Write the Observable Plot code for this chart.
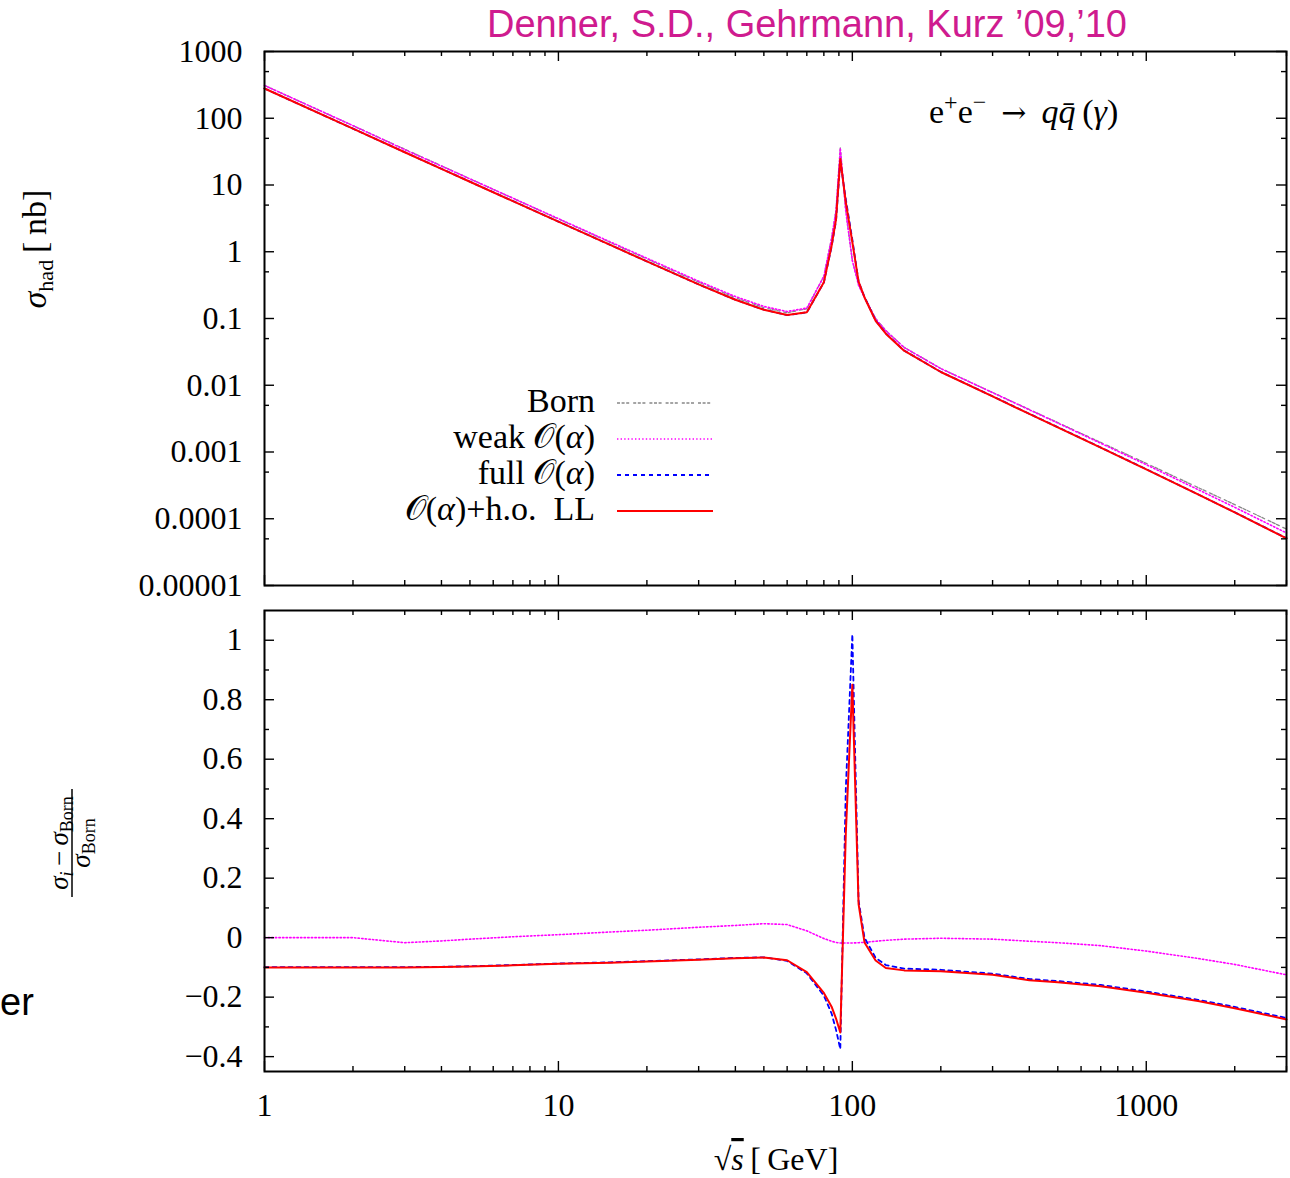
<!DOCTYPE html>
<html>
<head>
<meta charset="utf-8">
<script src="https://cdn.jsdelivr.net/npm/d3@7"></script>
<script src="https://cdn.jsdelivr.net/npm/@observablehq/plot@0.6"></script>
<style>
  html, body { margin: 0; padding: 0; background: #fff; overflow: hidden; }
  #chart { position: relative; width: 1290px; height: 1178px; }
  #chart svg { display: block; }
</style>
</head>
<body>
<div id="chart"></div>
<script>
// Centre-of-mass energies sqrt(s) in GeV
const energies = [1, 2, 3, 4, 5, 7, 10, 15, 20, 30, 40, 50, 60, 70, 80, 85, 88, 91, 95, 100,
  105, 110, 120, 130, 150, 200, 300, 400, 500, 700, 1000, 1500, 2000, 3000];

// Hadronic cross sections in nb
const sigmaBorn = [310, 77.5, 34.4, 19.4, 12.4, 6.33, 3.10, 1.38, 0.78, 0.35, 0.205, 0.145, 0.122, 0.140,
  0.43, 1.6, 4.2, 36, 4.1, 0.75, 0.32, 0.21, 0.100, 0.066, 0.037, 0.0178, 0.00779, 0.00434, 0.00276,
  0.00139, 0.000676, 0.000294, 0.000163, 0.0000700];
const sigmaWeak = [310, 77.5, 33.8, 19.19, 12.34, 6.35, 3.131, 1.406, 0.7995, 0.3623, 0.2134, 0.1518,
  0.1274, 0.1432, 0.4287, 1.581, 4.133, 35.35, 4.026, 0.7365, 0.3146, 0.2066, 0.0988, 0.0654, 0.0368,
  0.01776, 0.00775, 0.004288, 0.002713, 0.001352, 0.0006456, 0.0002734, 0.0001483, 0.00006125];
const sigmaFull = [279.3, 69.8, 31.0, 17.5, 11.21, 5.75, 2.830, 1.266, 0.7184, 0.3245, 0.1911, 0.1354,
  0.1125, 0.1232, 0.3462, 1.192, 2.898, 22.5, 6.15, 1.515, 0.36, 0.21, 0.0932, 0.0599, 0.03315, 0.01588,
  0.006847, 0.003737, 0.002357, 0.001169, 0.0005536, 0.0002326, 0.000125, 0.0000511];
const sigmaLL = [279, 69.75, 30.96, 17.48, 11.20, 5.74, 2.827, 1.264, 0.7176, 0.3241, 0.1909, 0.1353,
  0.1127, 0.1238, 0.3500, 1.229, 3.058, 24.52, 5.535, 1.388, 0.3562, 0.2066, 0.0923, 0.0593, 0.03293,
  0.01579, 0.006816, 0.003719, 0.002346, 0.001163, 0.0005509, 0.0002314, 0.0001244, 0.00005075];

// Relative corrections (sigma_i - sigma_Born) / sigma_Born
const deltaWeak = [0, 0, -0.017, -0.011, -0.005, 0.003, 0.010, 0.019, 0.025, 0.035, 0.041, 0.047, 0.044,
  0.023, -0.003, -0.012, -0.016, -0.018, -0.018, -0.018, -0.017, -0.016, -0.012, -0.009, -0.005, -0.002,
  -0.005, -0.012, -0.017, -0.027, -0.045, -0.070, -0.090, -0.125];
const deltaFull = [-0.099, -0.099, -0.099, -0.098, -0.096, -0.092, -0.087, -0.083, -0.079, -0.073, -0.068,
  -0.066, -0.078, -0.120, -0.195, -0.255, -0.310, -0.375, 0.50, 1.02, 0.125, 0.0, -0.068, -0.092, -0.104,
  -0.108, -0.121, -0.139, -0.146, -0.159, -0.181, -0.209, -0.233, -0.270];
const deltaLL = [-0.100, -0.100, -0.100, -0.099, -0.097, -0.093, -0.088, -0.084, -0.080, -0.074, -0.069,
  -0.067, -0.076, -0.116, -0.186, -0.232, -0.272, -0.319, 0.35, 0.85, 0.113, -0.016, -0.077, -0.102, -0.110,
  -0.113, -0.125, -0.143, -0.150, -0.163, -0.185, -0.213, -0.237, -0.275];

// Tick values and labels
const xTickValues = [1, 10, 100, 1000];
const xTickLabels = ["1", "10", "100", "1000"];
const xMinorTicks = [2, 3, 4, 5, 6, 7, 8, 9, 20, 30, 40, 50, 60, 70, 80, 90,
  200, 300, 400, 500, 600, 700, 800, 900, 2000, 3000];
const yTopTickValues = [1000, 100, 10, 1, 0.1, 0.01, 0.001, 0.0001, 0.00001];
const yTopTickLabels = ["1000", "100", "10", "1", "0.1", "0.01", "0.001", "0.0001", "0.00001"];
const yTopMinorTicks = [500, 50, 5, 0.5, 0.05, 0.005, 0.0005, 0.00005];
const yBottomTickValues = [1, 0.8, 0.6, 0.4, 0.2, 0, -0.2, -0.4];
const yBottomTickLabels = ["1", "0.8", "0.6", "0.4", "0.2", "0", "\u22120.2", "\u22120.4"];
const yBottomMinorTicks = [0.9, 0.7, 0.5, 0.3, 0.1, -0.1, -0.3];

// Series styles: Born, weak O(alpha), full O(alpha), O(alpha)+h.o. LL
const seriesColors = ["#888888", "#ff00ff", "#0000ff", "#ff0000"];
const seriesDash = ["3,1.6,3,1.6,3,4", "1.4,2.2", "4,4", null];
const seriesWidth = [1.3, 1.6, 1.8, 2];

const serif = "'Liberation Serif', 'Times New Roman', serif";
const sans = "'Liberation Sans', Arial, sans-serif";

const rows = (ys) => energies.map((x, i) => ({x, y: ys[i]}));
const labelFor = (values, labels) => {
  const m = new Map(values.map((v, i) => [v, labels[i]]));
  return (d) => m.get(d);
};

const W = 1290;
const mL = 264, mR = 4;
const frameW = W - mL - mR;
const MAJOR = 10, MINOR = 5;

// Inward ticks on all four sides of a frame
function frameTicks(xMajor, xMinor, yMajor, yMinor, frameH) {
  const st = {stroke: "black", strokeWidth: 1.4};
  return [
    Plot.ruleX(xMajor, {...st, insetTop: frameH - MAJOR}),
    Plot.ruleX(xMinor, {...st, insetTop: frameH - MINOR}),
    Plot.ruleX(xMajor, {...st, insetBottom: frameH - MAJOR}),
    Plot.ruleX(xMinor, {...st, insetBottom: frameH - MINOR}),
    Plot.ruleY(yMajor, {...st, insetRight: frameW - MAJOR}),
    Plot.ruleY(yMinor, {...st, insetRight: frameW - MINOR}),
    Plot.ruleY(yMajor, {...st, insetLeft: frameW - MAJOR}),
    Plot.ruleY(yMinor, {...st, insetLeft: frameW - MINOR})
  ];
}

// One line per series; `first` is the style index of the first array
function seriesLines(arrays, first) {
  return arrays.map((ys, k) => Plot.line(rows(ys), {
    x: "x", y: "y",
    stroke: seriesColors[k + first],
    strokeWidth: seriesWidth[k + first],
    strokeDasharray: seriesDash[k + first],
    strokeLinejoin: "round"
  }));
}

function richText(parent, {x, y, anchor = "start", size = 32, family = serif, fill = "black"}, parts) {
  const t = parent.append("text")
    .attr("x", x).attr("y", y)
    .attr("text-anchor", anchor)
    .attr("font-family", family)
    .attr("font-size", size)
    .attr("fill", fill);
  for (const p of parts) {
    const [str, o] = typeof p === "string" ? [p, {}] : p;
    const s = t.append("tspan").text(str);
    if (o.italic) s.attr("font-style", "italic");
    if (o.size) s.attr("font-size", o.size);
    if (o.dy) s.attr("dy", o.dy);
    if (o.family) s.attr("font-family", o.family);
    if (o.deco) s.style("text-decoration", o.deco);
  }
  return t;
}

// ---------- upper panel: cross sections ----------
const topH = 606, topMT = 51, topMB = 21;
const topPlot = Plot.plot({
  width: W, height: topH,
  marginLeft: mL, marginRight: mR, marginTop: topMT, marginBottom: topMB,
  style: {fontFamily: serif, fontSize: "32px", color: "black", background: "white"},
  x: {type: "log", domain: [1, 3000], axis: null},
  y: {
    type: "log", domain: [0.00001, 1000], label: null,
    ticks: yTopTickValues, tickFormat: labelFor(yTopTickValues, yTopTickLabels),
    tickSize: 0, tickPadding: 22
  },
  marks: [
    ...seriesLines([sigmaBorn, sigmaWeak, sigmaFull, sigmaLL], 0),
    ...frameTicks(xTickValues, xMinorTicks, yTopTickValues, yTopMinorTicks, topH - topMT - topMB),
    Plot.frame({stroke: "black", strokeWidth: 2})
  ]
});

// ---------- lower panel: relative corrections ----------
const botH = 572, botMT = 4, botMB = 107;
const botY0 = topH;
const bottomPlot = Plot.plot({
  width: W, height: botH,
  marginLeft: mL, marginRight: mR, marginTop: botMT, marginBottom: botMB,
  style: {fontFamily: serif, fontSize: "32px", color: "black", background: "white"},
  x: {
    type: "log", domain: [1, 3000], label: null,
    ticks: xTickValues, tickFormat: labelFor(xTickValues, xTickLabels),
    tickSize: 0, tickPadding: 22
  },
  y: {
    domain: [-0.45, 1.1], label: null,
    ticks: yBottomTickValues, tickFormat: labelFor(yBottomTickValues, yBottomTickLabels),
    tickSize: 0, tickPadding: 22
  },
  marks: [
    ...seriesLines([deltaWeak, deltaFull, deltaLL], 1),
    ...frameTicks(xTickValues, xMinorTicks, yBottomTickValues, yBottomMinorTicks, botH - botMT - botMB),
    Plot.frame({stroke: "black", strokeWidth: 2})
  ]
});

const chart = document.getElementById("chart");
chart.appendChild(topPlot);
chart.appendChild(bottomPlot);

// ---------- annotations, upper panel ----------
const st = d3.select(topPlot);

richText(st, {x: 807, y: 37, anchor: "middle", size: 38, family: sans, fill: "#cf1b8f"},
  ["Denner, S.D., Gehrmann, Kurz \u201909,\u201910"]);

richText(st, {x: 929, y: 123, size: 34}, [
  "e", ["+", {size: 24, dy: -13}], ["e", {dy: 13}], ["\u2212", {size: 24, dy: -13}],
  ["\u2002\u2192\u2002", {dy: 13, family: "'DejaVu Serif', serif", size: 30}],
  ["q", {italic: true}], ["q\u0304", {italic: true}],
  "\u2009(", ["\u03b3", {italic: true}], ")"
]);

const gy = st.append("g").attr("transform", "translate(46,249) rotate(-90)");
richText(gy, {x: 0, y: 0, anchor: "middle", size: 34}, [
  ["\u03c3", {italic: true}], ["had", {size: 22, dy: 7}], ["\u2009[\u2009nb]", {dy: -7}]
]);

// legend
const legendRows = [
  {y: 403, text: ["Born"]},
  {y: 439, text: ["weak ", "\ud835\udcaa(", ["\u03b1", {italic: true}], ")"]},
  {y: 475, text: ["full ", "\ud835\udcaa(", ["\u03b1", {italic: true}], ")"]},
  {y: 511, text: ["\ud835\udcaa(", ["\u03b1", {italic: true}], ")+h.o.\u2002LL"]}
];
legendRows.forEach((r, k) => {
  richText(st, {x: 595, y: r.y + 9, anchor: "end", size: 34}, r.text);
  st.append("line")
    .attr("x1", 617).attr("x2", 713).attr("y1", r.y).attr("y2", r.y)
    .attr("stroke", seriesColors[k])
    .attr("stroke-width", seriesWidth[k])
    .attr("stroke-dasharray", seriesDash[k]);
});

// ---------- annotations, lower panel ----------
const sb = d3.select(bottomPlot);

const gf = sb.append("g").attr("transform", `translate(72,${843 - botY0}) rotate(-90)`);
richText(gf, {x: 0, y: -4, anchor: "middle", size: 27}, [
  ["\u03c3", {italic: true}], ["i", {italic: true, size: 18, dy: 5}], ["\u2009\u2212\u2009", {dy: -5}],
  ["\u03c3", {italic: true}], ["Born", {size: 18, dy: 5}]
]);
gf.append("line").attr("x1", -54).attr("x2", 54).attr("y1", 0).attr("y2", 0)
  .attr("stroke", "black").attr("stroke-width", 1.5);
richText(gf, {x: 0, y: 18, anchor: "middle", size: 27}, [
  ["\u03c3", {italic: true}], ["Born", {size: 18, dy: 5}]
]);

richText(sb, {x: 776, y: 1170 - botY0, anchor: "middle", size: 32}, [
  "\u221a", ["s", {italic: true, deco: "overline"}], "\u2009[\u2009GeV]"
]);

richText(sb, {x: 0, y: 1015 - botY0, anchor: "start", size: 38, family: sans}, ["er"]);
</script>
</body>
</html>
